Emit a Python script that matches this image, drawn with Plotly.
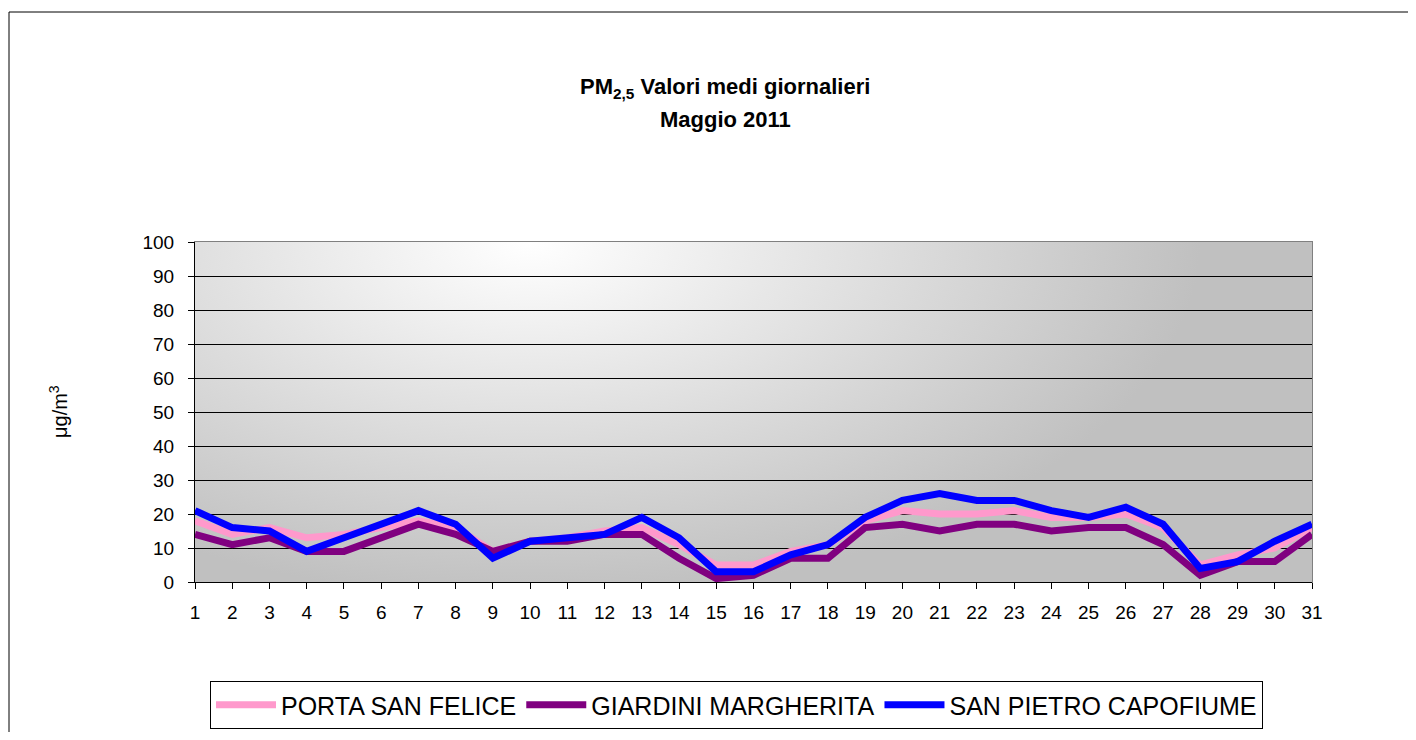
import base64
import plotly.graph_objects as go

days = list(range(1, 32))
porta_san_felice = [18, 14, 16, 13, 14, 16, 18, 16, 9, 12, 13, 15, 16, 11, 5, 5, 9, 11, 18, 21,
                    20, 20, 21, 19, 19, 20, 16, 5, 8, 10, 16]
giardini_margherita = [14, 11, 13, 9, 9, 13, 17, 14, 9, 12, 12, 14, 14, 7, 1, 2, 7, 7, 16, 17,
                       15, 17, 17, 15, 16, 16, 11, 2, 6, 6, 14]
san_pietro_capofiume = [21, 16, 15, 9, 13, 17, 21, 17, 7, 12, 13, 14, 19, 13, 3, 3, 8, 11, 19, 24,
                        26, 24, 24, 21, 19, 22, 17, 4, 6, 12, 17]
series_names = ["PORTA SAN FELICE", "GIARDINI MARGHERITA", "SAN PIETRO CAPOFIUME"]
series_colors = ["#ff99cc", "#800080", "#0000ff"]
y_ticks = list(range(0, 101, 10))

FONT = "Arial, 'Liberation Sans', sans-serif"

svg = ('<svg xmlns="http://www.w3.org/2000/svg" width="100" height="100" viewBox="0 0 100 100" '
       'preserveAspectRatio="none"><defs><radialGradient id="g" gradientUnits="userSpaceOnUse" '
       'cx="30" cy="0" r="100" gradientTransform="translate(30,0) scale(0.6,1.05) translate(-30,0)">'
       '<stop offset="0" stop-color="#ffffff"/><stop offset="1" stop-color="#c0c0c0"/>'
       '</radialGradient></defs><rect x="0" y="0" width="100" height="100" fill="url(#g)"/></svg>')
svg_uri = "data:image/svg+xml;base64," + base64.b64encode(svg.encode()).decode()

fig = go.Figure()
for name, vals, col in zip(series_names,
                           [porta_san_felice, giardini_margherita, san_pietro_capofiume],
                           series_colors):
    fig.add_trace(go.Scatter(x=days, y=vals, mode="lines", name=name,
                             line=dict(color=col, width=7)))

OFF = 8  # page body margin
W, H = 1400, 724
# target screen positions of the plot area
SL, SR, ST, SB = 195, 1312, 242, 582
L = SL - OFF
T = ST - OFF
R = W - (SR - OFF)
B = H - (SB - OFF)
pw, ph = SR - SL, SB - ST


def px(xpix):  # screen x -> paper
    return (xpix - SL) / pw


def py(ypix):  # screen y -> paper
    return (SB - ypix) / ph


fig.update_layout(
    width=W, height=H,
    margin=dict(l=L, r=R, t=T, b=B, autoexpand=False),
    paper_bgcolor="white",
    plot_bgcolor="#c0c0c0",
    font=dict(family=FONT, color="black", size=19),
    showlegend=True,
    legend=dict(orientation="h", x=px(210), y=py(681), xanchor="left", yanchor="top",
                bordercolor="black", borderwidth=1, bgcolor="white",
                font=dict(size=25, family=FONT), itemwidth=60, tracegroupgap=0),
    images=[dict(source=svg_uri, xref="x domain", yref="y domain", x=0, y=1,
                 sizex=1, sizey=1, sizing="stretch", xanchor="left", yanchor="top",
                 layer="below")],
    shapes=[
        dict(type="rect", xref="x domain", yref="y domain", x0=0, x1=1, y0=0, y1=1,
             line=dict(color="#808080", width=2), layer="below"),
        dict(type="line", xref="paper", yref="paper", x0=px(9), x1=px(9), y0=py(12), y1=py(OFF + H),
             line=dict(color="black", width=1)),
        dict(type="line", xref="paper", yref="paper", x0=px(9), x1=px(OFF + W), y0=py(12), y1=py(12),
             line=dict(color="black", width=1)),
    ],
    annotations=[
        dict(text="<b>PM<sub>2,5</sub> Valori medi giornalieri</b>", xref="paper", yref="paper",
             x=px(725), y=py(88), showarrow=False, font=dict(size=22, family=FONT),
             xanchor="center", yanchor="middle"),
        dict(text="<b>Maggio 2011</b>", xref="paper", yref="paper",
             x=px(725), y=py(120), showarrow=False, font=dict(size=22, family=FONT),
             xanchor="center", yanchor="middle"),
        dict(text="μg/m<sup>3</sup>", xref="paper", yref="paper", x=px(58), y=py(412),
             showarrow=False, textangle=-90, font=dict(size=20, family=FONT),
             xanchor="center", yanchor="middle"),
    ],
)

fig.update_xaxes(range=[1, 31], tickvals=days, ticktext=[str(d) for d in days],
                 showgrid=False, zeroline=False, showline=True, linecolor="black", linewidth=1,
                 ticks="outside", ticklen=6, tickcolor="black", tickfont=dict(size=19),
                 ticklabelstandoff=7)
fig.update_yaxes(range=[0, 100], tickvals=y_ticks, showgrid=True, gridcolor="black",
                 gridwidth=1, zeroline=False, showline=True, linecolor="black", linewidth=1,
                 ticks="outside", ticklen=6, tickcolor="black", tickfont=dict(size=19),
                 ticklabelstandoff=10)

fig.write_html("out.html")
